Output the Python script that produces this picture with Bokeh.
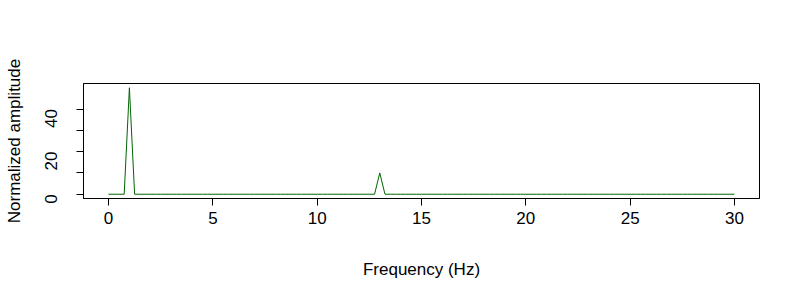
import math
import numpy as np
from bokeh.plotting import figure
from bokeh.models import FixedTicker
from bokeh.embed import file_html
from bokeh.resources import INLINE

# Frequency grid (Hz) and spectrum peaks
freq_step = 0.25
freq_max = 30
peak_freqs = [1, 13]
peak_amps = [50, 10]

freqs = np.arange(0, freq_max + freq_step / 2, freq_step)
amps = np.zeros_like(freqs)
for f, a in zip(peak_freqs, peak_amps):
    amps[np.argmin(np.abs(freqs - f))] = a

x_ticks = [0, 5, 10, 15, 20, 25, 30]
y_ticks = [0, 10, 20, 30, 40]
y_labels = {0: "0", 10: "", 20: "20", 30: "", 40: "40"}

FONT = "Liberation Sans"

p = figure(width=800, height=300, output_backend="svg", toolbar_location=None,
           x_range=(-1.2, 31.2), y_range=(-2, 52),
           min_border_left=83, min_border_right=41, min_border_top=83, min_border_bottom=102)
p.line(freqs, amps, line_color="#006400", line_width=1)

p.grid.visible = False
p.outline_line_color = "black"
p.outline_line_width = 1
p.background_fill_color = "white"
p.border_fill_color = "white"

for ax in (p.xaxis[0], p.yaxis[0]):
    ax.axis_line_color = "black"
    ax.major_tick_line_color = "black"
    ax.major_tick_out = 7
    ax.major_tick_in = 0
    ax.minor_tick_line_color = None
    ax.major_label_text_font = FONT
    ax.major_label_text_font_size = "17px"
    ax.major_label_text_color = "black"
    ax.axis_label_text_font = FONT
    ax.axis_label_text_font_size = "17px"
    ax.axis_label_text_font_style = "normal"
    ax.axis_label_text_color = "black"

p.xaxis.ticker = FixedTicker(ticks=x_ticks)
p.yaxis.ticker = FixedTicker(ticks=y_ticks)
p.yaxis.major_label_overrides = y_labels
p.yaxis.major_label_orientation = math.pi / 2
p.xaxis.axis_label = "Frequency (Hz)"
p.yaxis.axis_label = "Normalized amplitude"
p.xaxis.major_label_standoff = 6
p.yaxis.major_label_standoff = 25
p.xaxis.axis_label_standoff = 33
p.yaxis.axis_label_standoff = 13

open("out.html", "w").write(file_html(p, INLINE))
